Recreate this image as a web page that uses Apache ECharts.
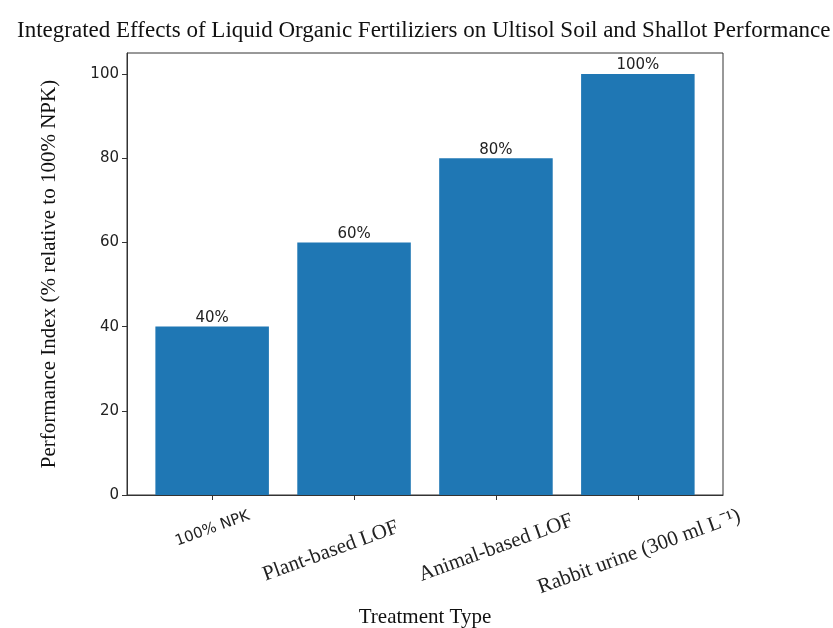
<!DOCTYPE html>
<html>
<head>
<meta charset="utf-8">
<script src="https://cdn.jsdelivr.net/npm/echarts@6/dist/echarts.min.js"></script>
<style>
  html, body { margin: 0; padding: 0; background: #fff; }
  #chart { width: 833px; height: 628px; }
</style>
</head>
<body>
<div id="chart"></div>
<script>
const categories = ["100% NPK", "Plant-based LOF", "Animal-based LOF", "Rabbit urine (300 ml L⁻¹)"];
const performance = [40, 60, 80, 100];
const yTicks = [0, 20, 40, 60, 80, 100];
const labelStyles = ["npk", "plant", "animal", "rabbit"];

const SERIF = "'Times New Roman', 'Liberation Serif', serif";
const SANS = "'DejaVu Sans', sans-serif";
const INK = "#222";

const chart = echarts.init(document.getElementById("chart"));
const xPositions = categories.map((_, i) => i);

chart.setOption({
    backgroundColor: "#fff",
    animation: false,

    title: {
        text: "Integrated Effects of Liquid Organic Fertiliziers on Ultisol Soil and Shallot Performance",
        left: 12,
        top: 14,
        textStyle: { fontFamily: SERIF, fontSize: 23, fontWeight: "normal", color: "#111" }
    },

    grid: {
        left: 127, right: 110, top: 53, bottom: 133,
        outerBoundsMode: "none",
        show: true, borderColor: "#333", borderWidth: 1
    },

    // x is a value axis so the bars sit where matplotlib put them (-0.6 .. 3.6)
    xAxis: {
        type: "value",
        min: -0.6,
        max: 3.6,
        splitLine: { show: false },
        axisLine: { show: true, onZero: false, lineStyle: { color: "#333" } },
        axisTick: { show: true, customValues: xPositions, length: 5, lineStyle: { color: "#333" } },
        axisLabel: {
            customValues: xPositions,
            rotate: 20,
            align: "center",
            verticalAlign: "middle",
            margin: 53,
            formatter: v => `{${labelStyles[v]}|${categories[v]}}`,
            rich: {
                npk: { fontFamily: SANS, fontSize: 15, color: INK, padding: [0, 0, 36, 14] },
                plant: { fontFamily: SERIF, fontSize: 21, color: INK, padding: [0, 46, 10, 0] },
                animal: { fontFamily: SERIF, fontSize: 21, color: INK },
                rabbit: { fontFamily: SERIF, fontSize: 21, color: INK, padding: [8, 0, 0, 0] }
            }
        },
        name: "Treatment Type",
        nameLocation: "middle",
        nameGap: 112,
        nameTextStyle: { fontFamily: SERIF, fontSize: 21, color: "#111" }
    },

    yAxis: {
        type: "value",
        min: 0,
        max: 105,
        interval: 20,
        splitLine: { show: false },
        axisLine: { show: true, onZero: false, lineStyle: { color: "#333" } },
        axisTick: { show: true, customValues: yTicks, length: 5, lineStyle: { color: "#333" } },
        axisLabel: {
            customValues: yTicks,
            fontFamily: SANS,
            fontSize: 15,
            color: INK,
            margin: 8
        },
        name: "Performance Index (% relative to 100% NPK)",
        nameLocation: "middle",
        nameGap: 67,
        nameTextStyle: { fontFamily: SERIF, fontSize: 21, color: "#111" }
    },

    series: [
        {
            name: "Performance",
            type: "bar",
            data: performance.map((v, i) => [i, v]),
            barWidth: "80%",
            itemStyle: { color: "#1f77b4" },
            label: {
                show: true,
                position: "top",
                distance: 1,
                fontFamily: SANS,
                fontSize: 15,
                color: INK,
                formatter: p => p.value[1] + "%"
            }
        }
    ]
});
</script>
</body>
</html>
